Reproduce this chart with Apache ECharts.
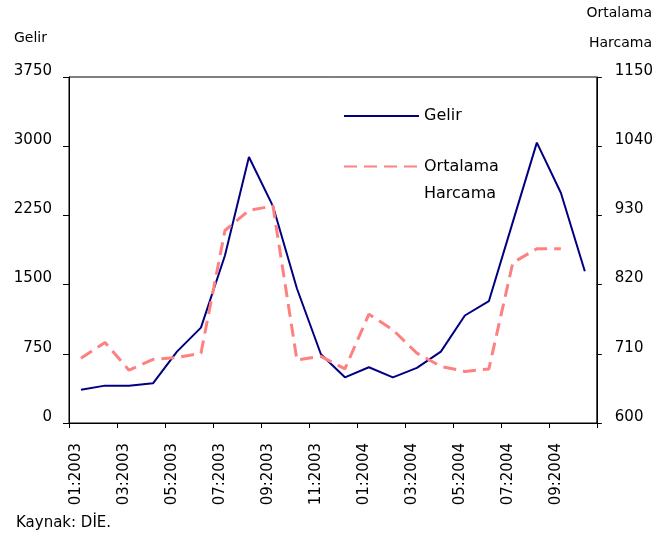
<!DOCTYPE html>
<html>
<head>
<meta charset="utf-8">
<script src="https://cdn.jsdelivr.net/npm/echarts@6/dist/echarts.min.js"></script>
<style>html,body{margin:0;padding:0;background:#fff}#c{width:656px;height:540px}</style>
</head>
<body>
<div id="c"></div>
<script>
var months = ['01:2003','02:2003','03:2003','04:2003','05:2003','06:2003','07:2003','08:2003','09:2003','10:2003','11:2003','12:2003',
              '01:2004','02:2004','03:2004','04:2004','05:2004','06:2004','07:2004','08:2004','09:2004','10:2004'];
var gelir = [361,405,405,430,774,1034,1816,2883,2351,1458,745,495,604,495,597,774,1165,1320,2180,3039,2496,1645];
var harcama = [703,728,684,701,704,711,906,938,945,700,706,686,773,748,711,690,682,686,855,877,877];
var leftTicks = {min:0, max:3750, interval:750};
var rightTicks = {min:600, max:1150, interval:110};

var FONT = 'DejaVu Sans';
var chart = echarts.init(document.getElementById('c'), null, {renderer:'canvas'});

function pts(arr){ return arr.map(function(v,i){ return [i+0.5, v]; }); }
function plain(v){ return String(v); }

var option = {
  animation:false,
  backgroundColor:'#fff',
  textStyle:{fontFamily:FONT, color:'#000'},
  title:[
    {text:'Gelir', left:14, top:31, padding:0, textStyle:{fontSize:14, fontWeight:'normal', color:'#000', fontFamily:FONT}},
    {text:'Ortalama\nHarcama', left:652, top:-2, padding:0, textAlign:'right', textStyle:{fontSize:14, fontWeight:'normal', color:'#000', fontFamily:FONT, lineHeight:30}},
    {text:'Kaynak: DİE.', left:16, top:516, padding:0, textStyle:{fontSize:15, fontWeight:'normal', color:'#000', fontFamily:FONT}}
  ],
  legend:[
    {data:['Gelir'], left:343, top:108, orient:'vertical', padding:0, itemWidth:75, itemHeight:14,
     itemStyle:{opacity:0},
     textStyle:{fontSize:16, color:'#000', fontFamily:FONT}},
    {data:['Ortalama Harcama'], left:343, top:126, orient:'vertical', padding:0, itemWidth:75, itemHeight:14,
     itemStyle:{opacity:0},
     formatter:function(){ return ' \nOrtalama\nHarcama'; },
     textStyle:{fontSize:16, color:'#000', fontFamily:FONT, lineHeight:27}}
  ],
  grid:{left:69, right:57, top:77, bottom:117, show:true, borderColor:'#000', borderWidth:1, backgroundColor:'transparent'},
  xAxis:{
    type:'value', min:0, max:months.length, interval:2,
    axisLine:{show:true, lineStyle:{color:'#000', width:1}},
    axisTick:{show:true, length:5, lineStyle:{color:'#000'}},
    splitLine:{show:false},
    axisLabel:{rotate:90, margin:20, fontSize:15, color:'#000', fontFamily:FONT, verticalAlign:'top', lineHeight:14,
      formatter:function(v){ return months[v] || ''; }}
  },
  yAxis:[
    {type:'value', min:leftTicks.min, max:leftTicks.max, interval:leftTicks.interval, position:'left',
     axisLine:{show:true, lineStyle:{color:'#000', width:1}},
     axisTick:{show:true, length:6, lineStyle:{color:'#000'}},
     splitLine:{show:false},
     axisLabel:{margin:17, fontSize:15, color:'#000', fontFamily:FONT, verticalAlign:'bottom', lineHeight:12, formatter:plain}},
    {type:'value', min:rightTicks.min, max:rightTicks.max, interval:rightTicks.interval, position:'right',
     axisLine:{show:true, lineStyle:{color:'#000', width:1}},
     axisTick:{show:true, length:5, lineStyle:{color:'#000'}},
     splitLine:{show:false},
     axisLabel:{margin:18, fontSize:15, color:'#000', fontFamily:FONT, verticalAlign:'bottom', lineHeight:12, formatter:plain}}
  ],
  series:[
    {name:'Gelir', type:'line', yAxisIndex:0, data:pts(gelir), symbol:'none',
     lineStyle:{color:'#000080', width:2}, itemStyle:{color:'#000080'}},
    {name:'Ortalama Harcama', type:'line', yAxisIndex:1, data:pts(harcama), symbol:'none',
     lineStyle:{color:'#FF8080', width:3, type:[13,7]}, itemStyle:{color:'#FF8080'}}
  ]
};
chart.setOption(option);
</script>
</body>
</html>
